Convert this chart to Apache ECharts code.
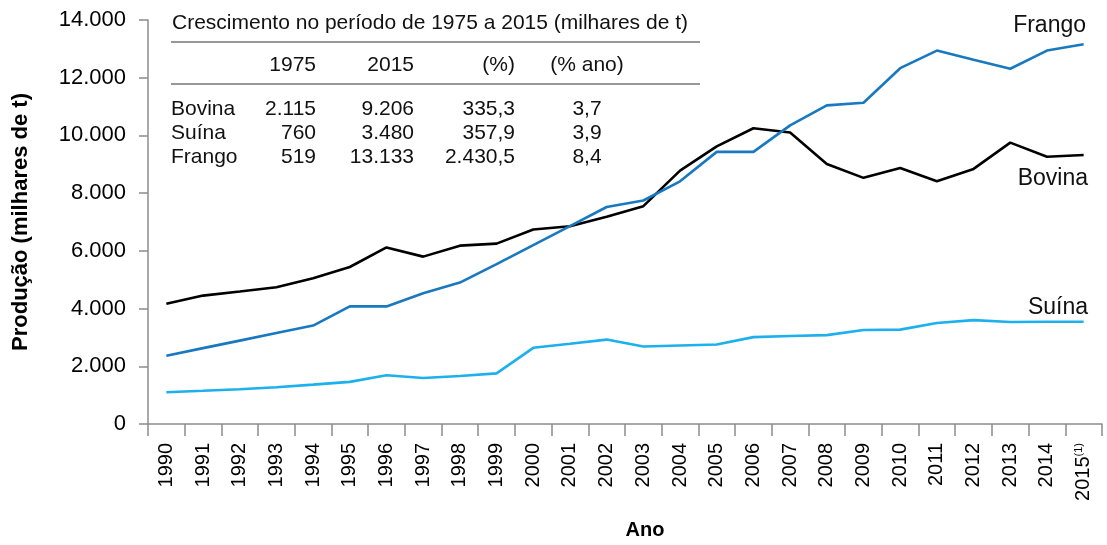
<!DOCTYPE html>
<html>
<head>
<meta charset="utf-8">
<script src="https://cdn.jsdelivr.net/npm/echarts@6/dist/echarts.min.js"></script>
<style>
  html, body { margin: 0; padding: 0; background: #fff; }
  #chart { width: 1107px; height: 545px; }
</style>
</head>
<body>
<div id="chart"></div>
<script>
// anos do eixo x
var years = ['1990', '1991', '1992', '1993', '1994', '1995', '1996', '1997', '1998', '1999',
  '2000', '2001', '2002', '2003', '2004', '2005', '2006', '2007', '2008', '2009',
  '2010', '2011', '2012', '2013', '2014', '2015'];

// produção (milhares de t)
var bovina = [4170, 4450, 4590, 4740, 5050, 5440, 6120, 5800, 6180, 6250,
  6740, 6850, 7180, 7550, 8780, 9620, 10250, 10100, 9010, 8530,
  8870, 8410, 8840, 9750, 9260, 9320];
var frango = [2365, 2630, 2890, 3150, 3410, 4075, 4075, 4530, 4900, 5540,
  6200, 6860, 7520, 7745, 8410, 9430, 9430, 10350, 11040, 11130,
  12330, 12940, 12620, 12310, 12940, 13160];
var suina = [1100, 1150, 1205, 1275, 1365, 1460, 1690, 1595, 1665, 1755,
  2640, 2780, 2925, 2685, 2720, 2755, 3010, 3050, 3080, 3260,
  3270, 3500, 3600, 3535, 3545, 3545];

// tabela de crescimento
var tableTitle = 'Crescimento no período de 1975 a 2015 (milhares de t)';
var tableHeader = ['1975', '2015', '(%)', '(% ano)'];
var tableRows = [
  ['Bovina', '2.115', '9.206', '335,3', '3,7'],
  ['Suína', '760', '3.480', '357,9', '3,9'],
  ['Frango', '519', '13.133', '2.430,5', '8,4']
];

var FONT = 'Liberation Sans, Arial, sans-serif';
var axisGray = '#8c8c8c';
var cBovina = '#000000';
var cFrango = '#1878c0';
var cSuina = '#1cb0ec';

function fmt(v) {
  return String(v).replace(/\B(?=(\d{3})+(?!\d))/g, '.');
}

// elementos da tabela
var colRight = [316, 414, 515];
var colCenterLast = 587;
var g = [];
function txt(s, x, y, align, size) {
  g.push({
    type: 'text', x: x, y: y,
    style: { text: s, fill: '#111', font: (size || 21) + 'px ' + FONT, textAlign: align, textVerticalAlign: 'middle' }
  });
}
function hline(y) {
  g.push({
    type: 'line', shape: { x1: 171, y1: y, x2: 700, y2: y },
    style: { stroke: '#333', lineWidth: 1.2 }
  });
}
txt(tableTitle, 172, 23, 'left');
hline(42);
for (var i = 0; i < 3; i++) txt(tableHeader[i], colRight[i], 65, 'right');
txt(tableHeader[3], colCenterLast, 65, 'center');
hline(84);
var rowY = [109, 133, 157];
tableRows.forEach(function (r, k) {
  txt(r[0], 171, rowY[k], 'left');
  for (var j = 0; j < 3; j++) txt(r[j + 1], colRight[j], rowY[k], 'right');
  txt(r[4], colCenterLast, rowY[k], 'center');
});
// rótulos das séries
txt('Frango', 1086, 26, 'right', 23);
txt('Bovina', 1088, 179, 'right', 23);
txt('Suína', 1088, 308, 'right', 23);

var chart = echarts.init(document.getElementById('chart'));
var option = {
  animation: false,
  textStyle: { fontFamily: FONT },
  grid: { left: 148, right: 5, top: 20, bottom: 118, containLabel: false },
  xAxis: {
    type: 'category',
    data: years,
    boundaryGap: true,
    name: 'Ano',
    nameLocation: 'middle',
    nameGap: 96,
    nameTextStyle: { fontSize: 20, fontWeight: 'bold', color: '#000', padding: [0, 0, 0, 40] },
    axisLine: { lineStyle: { color: axisGray, width: 1.5 } },
    axisTick: { show: true, length: 12, alignWithLabel: false, lineStyle: { color: axisGray, width: 1.5 } },
    axisLabel: {
      rotate: 90, margin: 19, fontSize: 20, color: '#000', interval: 0,
      formatter: function (v) { return v === '2015' ? v + '{sup|(1)}' : v; },
      rich: { sup: { fontSize: 11, verticalAlign: 'top', padding: [0, 0, 9, 0], color: '#000' } }
    }
  },
  yAxis: {
    type: 'value',
    min: 0, max: 14000, interval: 2000,
    name: 'Produção (milhares de t)',
    nameLocation: 'middle',
    nameGap: 116,
    nameTextStyle: { fontSize: 22, fontWeight: 'bold', color: '#000' },
    axisLine: { show: true, lineStyle: { color: axisGray, width: 1.5 } },
    axisTick: { show: true, length: 9, lineStyle: { color: axisGray, width: 1.5 } },
    axisLabel: { margin: 22, fontSize: 22, color: '#000', formatter: fmt },
    splitLine: { show: false }
  },
  series: [
    { name: 'Bovina', type: 'line', data: bovina, symbol: 'none', lineStyle: { color: cBovina, width: 2.6 } },
    { name: 'Frango', type: 'line', data: frango, symbol: 'none', lineStyle: { color: cFrango, width: 2.6 } },
    { name: 'Suína', type: 'line', data: suina, symbol: 'none', lineStyle: { color: cSuina, width: 2.6 } }
  ],
  graphic: g
};
chart.setOption(option);
</script>
</body>
</html>
